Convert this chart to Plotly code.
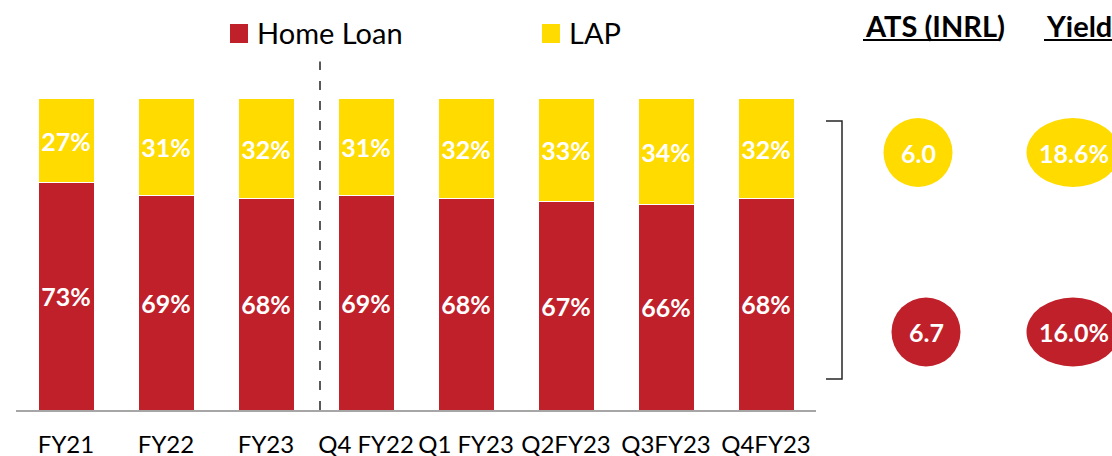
import plotly.graph_objects as go

# Portfolio mix by period (% share)
categories = ["FY21", "FY22", "FY23", "Q4 FY22", "Q1 FY23", "Q2FY23", "Q3FY23", "Q4FY23"]
home_loan = [73, 69, 68, 69, 68, 67, 66, 68]
lap = [27, 31, 32, 31, 32, 33, 34, 32]
series_names = ["Home Loan", "LAP"]

# Side metrics: [LAP, Home Loan]
ats_inr_lakh = [6.0, 6.7]
yield_pct = [18.6, 16.0]
metric_headers = ["ATS (INRL)", "Yield"]

RED = "#C0202A"
YELLOW = "#FFDB00"
FONT = "Lato"

W, H = 1112, 456
L, R, T, B = 16, 296, 60, 46
PW, PH = W - L - R, H - T - B


def px(x):
    return (x - L) / PW


def py(y):
    return (H - B - y) / PH


fig = go.Figure()
fig.add_trace(go.Bar(
    x=categories, y=home_loan, name=series_names[0],
    marker=dict(color=RED, line=dict(color="white", width=1)),
    texttemplate="%{y}%", textposition="inside", insidetextanchor="middle",
    textfont=dict(family=FONT, size=25, color="white", weight="bold"),
    constraintext="none", width=0.56,
))
fig.add_trace(go.Bar(
    x=categories, y=lap, name=series_names[1],
    marker=dict(color=YELLOW, line=dict(color="white", width=1)),
    texttemplate="%{y}%", textposition="inside", insidetextanchor="middle",
    textfont=dict(family=FONT, size=25, color="white", weight="bold"),
    constraintext="none", width=0.56,
))

shapes = []
annotations = []

# Divider between annual and quarterly periods
shapes.append(dict(type="line", xref="x", yref="y", x0=2.54, x1=2.54, y0=0, y1=112,
                   line=dict(color="#595959", width=2, dash="9px,11px")))

# Legend
legend_items = [(series_names[0], RED, 230), (series_names[1], YELLOW, 542)]
for name, col, x0 in legend_items:
    shapes.append(dict(type="rect", xref="paper", yref="paper",
                       x0=px(x0), x1=px(x0 + 18), y0=py(43), y1=py(24),
                       fillcolor=col, line=dict(width=0)))
    annotations.append(dict(xref="paper", yref="paper", x=px(x0 + 25), y=py(33),
                            xanchor="left", yanchor="middle", text=name, showarrow=False,
                            font=dict(family=FONT, size=29, color="#000000")))

# Bracket grouping the bars
bracket = dict(color="#262626", width=1.5)
shapes.append(dict(type="path", xref="paper", yref="paper",
                   path=f"M {px(826)} {py(121)} L {px(842)} {py(121)} L {px(842)} {py(379)} L {px(826)} {py(379)}",
                   line=bracket))

# Metric headers with underline
headers = [(metric_headers[0], 863, 1000), (metric_headers[1], 1044, 1112)]
for text, x0, x1 in headers:
    annotations.append(dict(xref="paper", yref="paper", x=px(x0), y=py(26),
                            xanchor="left", yanchor="middle", text=f"<b>{text}</b>",
                            showarrow=False,
                            font=dict(family=FONT, size=29, color="#000000")))
    shapes.append(dict(type="line", xref="paper", yref="paper",
                       x0=px(x0), x1=px(x1), y0=py(40), y1=py(40),
                       line=dict(color="#000000", width=2)))

# Metric bubbles: row 0 = LAP (yellow), row 1 = Home Loan (red)
rows = [(YELLOW, 152.5, 918), (RED, 332, 926)]
for i, (col, cy, cx_ats) in enumerate(rows):
    shapes.append(dict(type="circle", xref="paper", yref="paper",
                       x0=px(cx_ats - 34.5), x1=px(cx_ats + 34.5),
                       y0=py(cy + 34.5), y1=py(cy - 34.5),
                       fillcolor=col, line=dict(width=0)))
    annotations.append(dict(xref="paper", yref="paper", x=px(cx_ats), y=py(cy),
                            text=f"<b>{ats_inr_lakh[i]:.1f}</b>", showarrow=False,
                            xanchor="center", yanchor="middle",
                            font=dict(family=FONT, size=25, color="white")))
    cx_y = 1073
    shapes.append(dict(type="circle", xref="paper", yref="paper",
                       x0=px(cx_y - 46.5), x1=px(cx_y + 46.5),
                       y0=py(cy + 34.5), y1=py(cy - 34.5),
                       fillcolor=col, line=dict(width=0)))
    annotations.append(dict(xref="paper", yref="paper", x=px(cx_y + 1), y=py(cy),
                            text=f"<b>{yield_pct[i]:.1f}%</b>", showarrow=False,
                            xanchor="center", yanchor="middle",
                            font=dict(family=FONT, size=25, color="white")))

fig.update_layout(
    width=W, height=H, barmode="stack", bargap=0.44,
    margin=dict(l=L, r=R, t=T, b=B, autoexpand=False),
    paper_bgcolor="white", plot_bgcolor="white",
    showlegend=False,
    shapes=shapes, annotations=annotations,
    font=dict(family=FONT, color="#000000"),
    xaxis=dict(range=[-0.5, 7.5], showline=True, linecolor="#A6A6A6", linewidth=1.5,
               ticks="", showgrid=False, zeroline=False, automargin=False,
               tickangle=0,
               tickfont=dict(family=FONT, size=24, color="#000000"),
               ticklabelstandoff=12),
    yaxis=dict(range=[0, 112.5], visible=False, showgrid=False, zeroline=False,
               automargin=False),
)

fig.write_html("out.html")
